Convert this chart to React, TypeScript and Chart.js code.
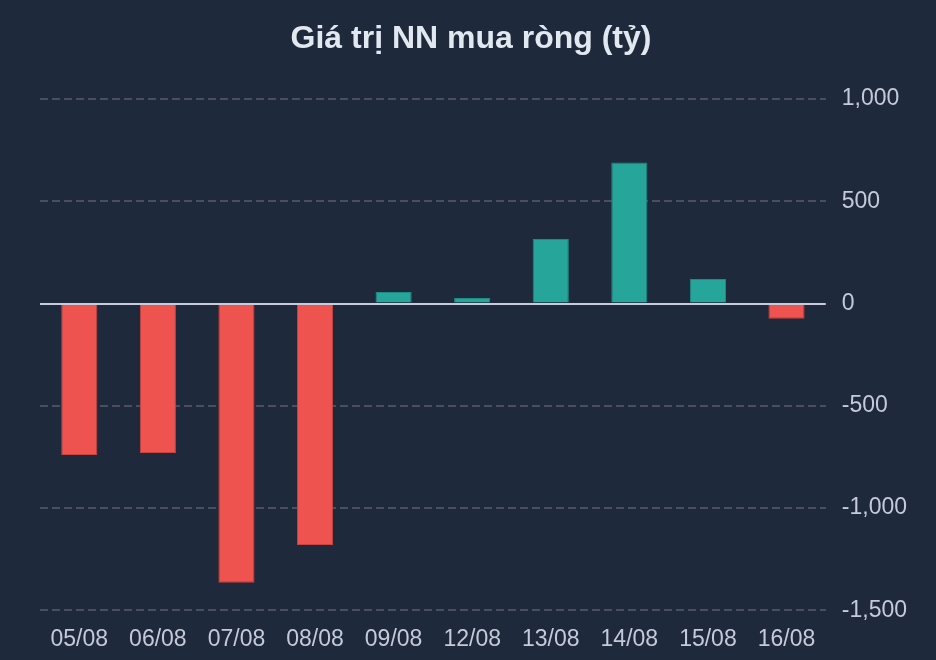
import React, { useEffect, useRef } from "react";
import { Chart, registerables } from "chart.js";

Chart.register(...registerables);

const TITLE = "Giá trị NN mua ròng (tỷ)";
const categories = ["05/08", "06/08", "07/08", "08/08", "09/08", "12/08", "13/08", "14/08", "15/08", "16/08"];
const values = [-740, -730, -1365, -1180, 56, 27, 316, 689, 120, -74];
const yTicks = [1000, 500, 0, -500, -1000, -1500];

const BG = "#1e293b";
const UP = "#26a69a";
const DOWN = "#ef5350";
const UP_BORDER = "#1f8c82";
const DOWN_BORDER = "#c94441";
const TEXT = "#c5cad9";
const FONT = "'Helvetica Neue', Helvetica, 'Liberation Sans', Arial, sans-serif";

const zeroLine = {
  id: "zeroLine",
  afterDatasetsDraw(chart: any) {
    const y = chart.scales.y;
    const area = chart.chartArea;
    const py = Math.round(y.getPixelForValue(0));
    const ctx = chart.ctx;
    ctx.save();
    ctx.strokeStyle = "#c8cbdc";
    ctx.lineWidth = 2;
    ctx.beginPath();
    ctx.moveTo(area.left, py);
    ctx.lineTo(area.right, py);
    ctx.stroke();
    ctx.restore();
  },
};

const titlePlugin = {
  id: "centeredTitle",
  afterDraw(chart: any) {
    const ctx = chart.ctx;
    ctx.save();
    ctx.fillStyle = "#e2e8f0";
    ctx.font = `bold 32px ${FONT}`;
    ctx.textAlign = "center";
    ctx.textBaseline = "middle";
    ctx.fillText(TITLE, 471, 39);
    ctx.restore();
  },
};

export default function App() {
  const ref = useRef<HTMLCanvasElement | null>(null);
  useEffect(() => {
    if (!ref.current) return;
    const chart = new Chart(ref.current, {
      type: "bar",
      data: {
        labels: categories,
        datasets: [
          {
            data: values,
            backgroundColor: values.map((v) => (v >= 0 ? UP : DOWN)),
            borderColor: values.map((v) => (v >= 0 ? UP_BORDER : DOWN_BORDER)),
            borderWidth: 1,
            barPercentage: 0.46,
            categoryPercentage: 1,
          },
        ],
      },
      options: {
        animation: false,
        responsive: false,
        maintainAspectRatio: false,
        layout: { padding: { left: 40, right: 13, top: 99, bottom: 9 } },
        plugins: {
          legend: { display: false },
          tooltip: { enabled: false },
          title: { display: false },
        },
        scales: {
          x: {
            grid: { display: false, drawTicks: false },
            border: { display: false },
            afterFit: (scale: any) => {
              scale.height = scale.height - 17;
            },
            ticks: {
              color: TEXT,
              font: { family: FONT, size: 23 },
              padding: 15,
              maxRotation: 0,
            },
          },
          y: {
            position: "right",
            min: -1500,
            max: 1000,
            afterBuildTicks: (scale: any) => {
              scale.ticks = yTicks.map((v) => ({ value: v }));
            },
            grid: {
              color: (ctx: any) => (ctx.tick && ctx.tick.value === 0 ? "rgba(0,0,0,0)" : "#4a4e5e"),
              lineWidth: 2,
              drawTicks: false,
            },
            border: { display: false, dash: [8, 4] },
            ticks: {
              color: TEXT,
              font: { family: FONT, size: 23 },
              padding: 16,
              callback: (v: any) => Number(v).toLocaleString("en-US"),
            },
          },
        },
      },
      plugins: [zeroLine, titlePlugin],
    });
    return () => chart.destroy();
  }, []);
  return (
    <div style={{ position: "fixed", left: 0, top: 0, width: 936, height: 660, background: BG }}>
      <canvas ref={ref} width={936} height={660} style={{ display: "block" }} />
    </div>
  );
}
